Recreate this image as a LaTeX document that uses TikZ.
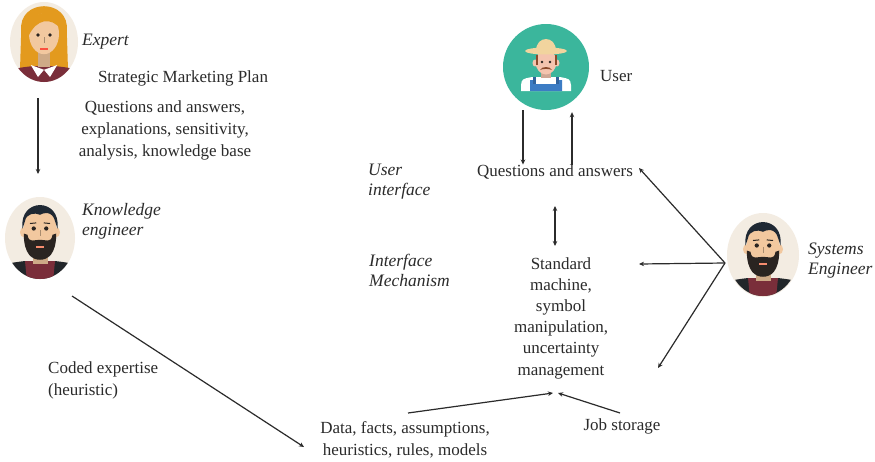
\documentclass[tikz,border=0pt]{standalone}
\usepackage{fontspec}
\setmainfont{Liberation Serif}
\usetikzlibrary{arrows.meta,shapes.geometric}
\definecolor{avbg}{HTML}{F3ECE2}
\definecolor{skin}{HTML}{F2C89F}
\definecolor{skinpink}{HTML}{F4C4AE}
\definecolor{hairorange}{HTML}{E39A1E}
\definecolor{hairdark}{HTML}{1F2833}
\definecolor{beard}{HTML}{2A2421}
\definecolor{maroon}{HTML}{7A2E3A}
\definecolor{jacket}{HTML}{22262A}
\definecolor{teal}{HTML}{3BB69C}
\definecolor{overall}{HTML}{3C7CC4}
\definecolor{hat}{HTML}{F1D49E}
\definecolor{hatband}{HTML}{D9AE6A}
\definecolor{moust}{HTML}{8C4A2B}
\definecolor{ink}{HTML}{2B2B2B}
\tikzset{
  txt/.style={font=\fontsize{17}{22}\selectfont, text=ink, inner sep=0pt},
  itxt/.style={txt, font=\fontsize{17.5}{20}\selectfont\itshape, align=left},
  arr/.style={draw=ink, line width=1.2pt, -{Stealth[length=5pt,width=4.5pt]}},
  dblarr/.style={draw=ink, line width=1.2pt, {Stealth[length=5pt,width=4.5pt]}-{Stealth[length=5pt,width=4.5pt]}},
  avatar/.style={ellipse, fill=avbg, minimum width=70pt, minimum height=82pt, inner sep=0pt},
  pics/bearded/.style={code={
    \begin{scope}
      \clip (0,0) ellipse [x radius=35pt, y radius=41pt];
      \begin{scope}[shift={(0,-2)}, scale=1.25]
      % jacket and shirt
      \fill[jacket] (-40,50) -- (-36,30) .. controls (-28,22) .. (-12,20) -- (12,20) .. controls (28,22) .. (36,30) -- (40,50) -- cycle;
      \fill[maroon] (-12,20) -- (12,20) -- (9,50) -- (-9,50) -- cycle;
      % neck, ears, face
      \fill[skin!85!black] (-6,6) rectangle (6,22);
      \fill[skin] (-13,-3) ellipse [x radius=3pt, y radius=4pt];
      \fill[skin] (13,-3) ellipse [x radius=3pt, y radius=4pt];
      \fill[skin] (0,-6) ellipse [x radius=13pt, y radius=18pt];
      % beard and moustache
      \fill[beard] (-13,-2) .. controls (-13,15) and (-6,19) .. (0,19) .. controls (6,19) and (13,15) .. (13,-2)
        -- (10,-1) .. controls (9,6) and (5,3) .. (0,3) .. controls (-5,3) and (-9,6) .. (-10,-1) -- cycle;
      \fill[skin!70!red] (-3,8) rectangle (3,9.5);
      % hair
      \fill[hairdark] (-14,-6) .. controls (-17,-31) and (17,-31) .. (14,-6)
        -- (12,-12) .. controls (10,-20) and (3,-19) .. (0,-17) .. controls (-4,-19) and (-11,-18) .. (-12,-12) -- cycle;
      % eyes and brows
      \fill[beard] (-5,-6) circle [radius=1.7pt];
      \fill[beard] (5,-6) circle [radius=1.7pt];
      \draw[beard, line width=1pt] (-8,-10) -- (-3,-10.5);
      \draw[beard, line width=1pt] (8,-10) -- (3,-10.5);
      \draw[skin!70!black, line width=0.8pt] (0,-5) -- (0,0);
      \end{scope}
    \end{scope}
  }},
}
\begin{document}
\begin{tikzpicture}[x=1pt, y=-1pt]
\useasboundingbox[fill=white] (0,0) rectangle (875,461);

% ---------- Expert ----------
\node[avatar, minimum width=68pt, minimum height=80pt] (expert) at (44,42) {};
\begin{scope}[shift={(44,42)}]
  \clip (0,0) ellipse [x radius=34pt, y radius=40pt];
  \begin{scope}[shift={(0,-1)}, scale=1.2]
  \fill[hairorange] (-19,-8) .. controls (-22,-36) and (22,-36) .. (19,-8) -- (20,24) -- (-20,24) -- cycle;
  \fill[maroon] (-36,50) -- (-33,31) .. controls (-27,23) .. (-10,21) -- (10,21) .. controls (27,23) .. (33,31) -- (36,50) -- cycle;
  \fill[skin!85!black] (-5,6) rectangle (5,22);
  \fill[white] (-11,20) -- (0,24) -- (-5,30) -- cycle;
  \fill[white] (11,20) -- (0,24) -- (5,30) -- cycle;
  \fill[skin] (0,-6) ellipse [x radius=12.5pt, y radius=17pt];
  \fill[hairorange] (-14,-6) .. controls (-14,-28) and (13,-29) .. (14,-10) .. controls (6,-20) and (-6,-19) .. (-13,-4) -- cycle;
  \fill[beard] (-5,-5) circle [radius=1.6pt];
  \fill[beard] (5,-5) circle [radius=1.6pt];
  \draw[skin!70!black, line width=0.8pt] (0,-3) -- (0,2);
  \fill[red!60!skin] (-3,6) rectangle (3,7.5);
  \end{scope}
\end{scope}
\node[itxt, anchor=west] (expertlbl) at (82,42) {Expert};
\node[txt] (smp) at (183,78) {Strategic Marketing Plan};
\node[txt, align=center] (qaexp) at (165,130) {Questions and answers,\\explanations, sensitivity,\\analysis, knowledge base};

% ---------- Knowledge engineer ----------
\node[avatar] (keng) at (40,238) {};
\pic at (40,238) {bearded};
\node[itxt, anchor=west] (kenglbl) at (82,221) {Knowledge\\engineer};
\node[txt, align=left, anchor=west] (coded) at (48,380) {Coded expertise\\(heuristic)};

% ---------- User ----------
\node[circle, fill=teal, minimum size=86pt, inner sep=0pt] (user) at (546,67) {};
\begin{scope}[shift={(546,67)}]
  \fill[white] (-25,24) -- (-25,18) .. controls (-24,12) .. (-14,10) -- (14,10) .. controls (24,12) .. (25,18) -- (25,24) -- cycle;
  \fill[overall] (-16,24) -- (-16,13) -- (-12,13) -- (-12,17) -- (12,17) -- (12,13) -- (16,13) -- (16,24) -- cycle;
  \fill[overall!80!black] (-13,10) rectangle (-10,17);
  \fill[overall!80!black] (10,10) rectangle (13,17);
  \fill[skinpink!85!black] (-5,2) rectangle (5,11);
  \fill[skinpink] (-11,-4) ellipse [x radius=2.5pt, y radius=3.5pt];
  \fill[skinpink] (11,-4) ellipse [x radius=2.5pt, y radius=3.5pt];
  \fill[skinpink] (0,-5) ellipse [x radius=10.5pt, y radius=12.5pt];
  \fill[moust] (-10.5,-12) rectangle (-8.5,-2);
  \fill[moust] (8.5,-12) rectangle (10.5,-2);
  \fill[moust] (-6,3) .. controls (-4,-1) and (4,-1) .. (6,3) .. controls (3,1.5) and (-3,1.5) .. (-6,3) -- cycle;
  \fill[beard] (-4,-5) circle [radius=1.4pt];
  \fill[beard] (4,-5) circle [radius=1.4pt];
  \fill[hat] (-10,-16) .. controls (-10,-32) and (10,-32) .. (10,-16) -- cycle;
  \fill[hatband] (-10,-19) rectangle (10,-16);
  \fill[hat] (0,-16) ellipse [x radius=21pt, y radius=3.5pt];
\end{scope}
\node[txt, anchor=west] (userlbl) at (600,76) {User};

% ---------- Centre column ----------
\node[txt] (qa) at (555,172) {Questions and answers};
\node[itxt, anchor=west] (uif) at (368,182) {User\\interface};
\node[itxt, anchor=west] (imech) at (369,270) {Interface\\Mechanism};
\node[txt, align=center, font=\fontsize{17}{21.2}\selectfont] (std) at (561,318)
  {Standard\\machine,\\symbol\\manipulation,\\uncertainty\\management};
\node[txt, align=center] (data) at (405,440) {Data, facts, assumptions,\\heuristics, rules, models};
\node[txt] (jobs) at (622,426) {Job storage};

% ---------- Systems engineer ----------
\node[avatar, minimum width=72pt, minimum height=84pt] (seng) at (763,255) {};
\pic at (763,255) {bearded};
\node[itxt, anchor=west] (senglbl) at (808,261) {Systems\\Engineer};

% ---------- Connector end points ----------
\coordinate (expout) at (38,98);
\coordinate (kengin) at (38,174);
\coordinate (kengout) at (72,296);
\coordinate (datain) at (304,447);
\coordinate (dataout) at (408,413);
\coordinate (hubl) at (553,393);
\coordinate (hubr) at (558,393);
\coordinate (jobsout) at (620,413);
\coordinate (ifa) at (555,206);
\coordinate (ifb) at (555,246);
\coordinate (sehub) at (725,263);
\coordinate (seqa) at (639,168);
\coordinate (sestd) at (639,264);
\coordinate (selow) at (658,368);

% ---------- Connectors ----------
\draw[arr] (expout) -- (kengin);
\draw[arr] (kengout) -- (datain);
\draw[arr] (dataout) -- (hubl);
\draw[arr] (jobsout) -- (hubr);
\draw[arr] ([xshift=-23pt]user.south) -- ([xshift=-23pt]user.south |- qa.north);
\draw[arr] ([xshift=26pt]user.south |- qa.north) -- ([xshift=26pt,yshift=-2pt]user.south);
\draw[dblarr] (ifa) -- (ifb);
\draw[arr] (sehub) -- (seqa);
\draw[arr] (sehub) -- (sestd);
\draw[arr] (sehub) -- (selow);
\end{tikzpicture}
\end{document}
